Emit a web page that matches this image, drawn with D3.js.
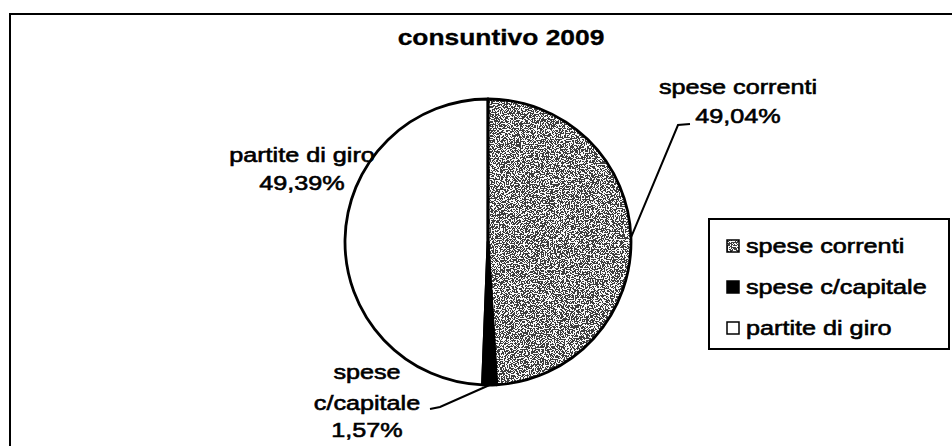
<!DOCTYPE html>
<html>
<head>
<meta charset="utf-8">
<script src="https://cdn.jsdelivr.net/npm/d3@7"></script>
<style>
  html, body { margin: 0; padding: 0; background: #fff; overflow: hidden; }
  svg { display: block; }
  text { font-family: "Liberation Sans", Arial, sans-serif; fill: #000; }
</style>
</head>
<body>
<div id="chart"></div>
<script>
// ---- data ----
const title = "consuntivo 2009";
const categories = ["spese correnti", "spese c/capitale", "partite di giro"];
const values = [49.04, 1.57, 49.39];

// ---- layout ----
const W = 952, H = 446;
const cx = 488, cy = 242, R = 143;
const SX = 1.2; // horizontal stretch of the scanned text

const svg = d3.select("#chart").append("svg")
  .attr("width", W).attr("height", H);

const defs = svg.append("defs");
const f = defs.append("filter").attr("id", "speckle")
  .attr("x", 0).attr("y", 0).attr("width", 1).attr("height", 1)
  .attr("filterUnits", "objectBoundingBox");
f.append("feTurbulence").attr("type", "fractalNoise")
  .attr("baseFrequency", 0.8).attr("numOctaves", 2).attr("seed", 7).attr("result", "t");
f.append("feColorMatrix").attr("in", "t").attr("type", "matrix")
  .attr("values", "0.33 0.33 0.33 0 0  0.33 0.33 0.33 0 0  0.33 0.33 0.33 0 0  0 0 0 0 1")
  .attr("result", "g");
const ct = f.append("feComponentTransfer").attr("in", "g").attr("result", "bw");
["feFuncR", "feFuncG", "feFuncB"].forEach(fn =>
  ct.append(fn).attr("type", "discrete").attr("tableValues", "0.05 0.95"));
f.append("feComposite").attr("in", "bw").attr("in2", "SourceGraphic").attr("operator", "in");

const fills = d3.scaleOrdinal().domain(categories).range(["speckle", "#000", "#fff"]);

// outer frame (right and bottom edges fall outside the picture)
svg.append("rect").attr("x", 10).attr("y", 14).attr("width", 960).attr("height", 460)
  .attr("fill", "none").attr("stroke", "#000").attr("stroke-width", 2);

function stext(parent, x, y, str, size, weight, anchor) {
  const g = parent.append("g").attr("transform", `translate(${x},${y}) scale(${SX},1)`);
  g.append("text").attr("x", 0).attr("y", 0)
    .attr("text-anchor", anchor || "middle")
    .attr("font-size", size).attr("font-weight", weight || "normal")
    .attr("stroke", "#000").attr("stroke-width", weight === "bold" ? 0.3 : 0.6)
    .text(str);
  return g;
}

// title
stext(svg, 501, 45, title, 22, "bold");

// pie
const pie = d3.pie().sort(null).value(d => d.v).startAngle(0).endAngle(2 * Math.PI);
const data = pie(categories.map((c, i) => ({ c, v: values[i] })));
const arc = d3.arc().innerRadius(0).outerRadius(R);
const pg = svg.append("g").attr("transform", `translate(${cx},${cy})`);

data.forEach(d => {
  const fl = fills(d.data.c);
  if (fl === "speckle") {
    pg.append("path").attr("d", arc(d)).attr("fill", "#000").attr("filter", "url(#speckle)");
  } else {
    pg.append("path").attr("d", arc(d)).attr("fill", fl);
  }
});
data.forEach(d => {
  pg.append("path").attr("d", arc(d)).attr("fill", "none")
    .attr("stroke", "#000").attr("stroke-width", 2.8).attr("stroke-linejoin", "round");
});

// labels
const fmt = v => d3.format(".2f")(v).replace(".", ",") + "%";
const labelLayout = {
  "spese correnti": { x: 738, ys: [94, 123], lines: d => [d.data.c, fmt(d.data.v)],
    leader: [[678, 125], [690, 124]] },
  "spese c/capitale": { x: 367, ys: [379, 410, 437], lines: d => ["spese", "c/capitale", fmt(d.data.v)],
    leader: [[440, 407], [430, 409]] },
  "partite di giro": { x: 302, ys: [162, 190], lines: d => [d.data.c, fmt(d.data.v)], leader: null }
};

data.forEach(d => {
  const L = labelLayout[d.data.c];
  const ls = L.lines(d);
  ls.forEach((s, i) => stext(svg, L.x, L.ys[i], s, 21, "normal"));
  if (L.leader) {
    const mid = (d.startAngle + d.endAngle) / 2;
    const p0 = [cx + R * Math.sin(mid), cy - R * Math.cos(mid)];
    svg.append("polyline")
      .attr("points", [p0].concat(L.leader).map(p => p.join(",")).join(" "))
      .attr("fill", "none").attr("stroke", "#000").attr("stroke-width", 2);
  }
});

// legend
const lg = svg.append("g");
lg.append("rect").attr("x", 709).attr("y", 219).attr("width", 240).attr("height", 130)
  .attr("fill", "#fff").attr("stroke", "#000").attr("stroke-width", 2);
const ly = d3.scalePoint().domain(categories).range([246, 328]);
categories.forEach(c => {
  const y = ly(c);
  const fl = fills(c);
  if (fl === "speckle") {
    lg.append("rect").attr("x", 727).attr("y", y - 6).attr("width", 12).attr("height", 12)
      .attr("fill", "#000").attr("filter", "url(#speckle)");
    lg.append("rect").attr("x", 727).attr("y", y - 6).attr("width", 12).attr("height", 12)
      .attr("fill", "none").attr("stroke", "#000").attr("stroke-width", 1.5);
  } else {
    lg.append("rect").attr("x", 727).attr("y", y - 6).attr("width", 12).attr("height", 12)
      .attr("fill", fl).attr("stroke", "#000").attr("stroke-width", 1.5);
  }
  stext(lg, 746, y + 7, c, 21, "normal", "start");
});
</script>
</body>
</html>
